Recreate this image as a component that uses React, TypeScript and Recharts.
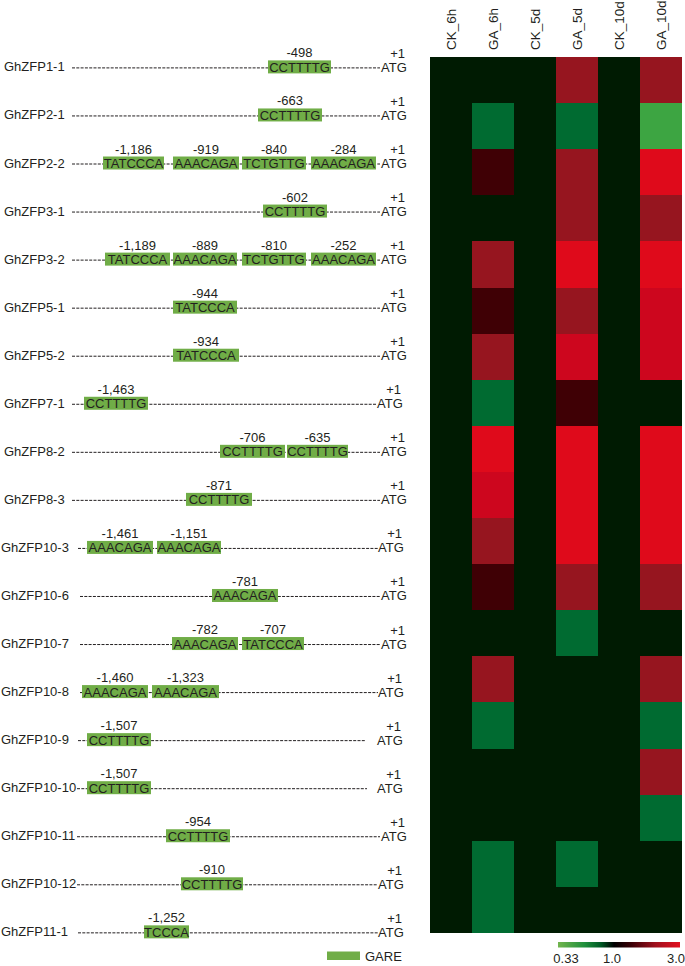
import React from 'react';
import { ComposedChart, BarChart, Bar, XAxis, YAxis, Cell } from 'recharts';

const FONT = '"Liberation Sans", Arial, sans-serif';
const INK = '#231f20';
const GARE_GREEN = '#70ad47';

const genes = [
  'GhZFP1-1', 'GhZFP2-1', 'GhZFP2-2', 'GhZFP3-1', 'GhZFP3-2', 'GhZFP5-1', 'GhZFP5-2',
  'GhZFP7-1', 'GhZFP8-2', 'GhZFP8-3', 'GhZFP10-3', 'GhZFP10-6', 'GhZFP10-7', 'GhZFP10-8',
  'GhZFP10-9', 'GhZFP10-10', 'GhZFP10-11', 'GhZFP10-12', 'GhZFP11-1',
];

const conditions = ['CK_6h', 'GA_6h', 'CK_5d', 'GA_5d', 'CK_10d', 'GA_10d'];

// relative expression (fold change) per gene, one list per condition
const ck6h = [1, 1, 1, 1, 1, 1, 1, 1, 1, 1, 1, 1, 1, 1, 1, 1, 1, 1, 1];
const ga6h = [1, 0.5, 1.3, 1, 2, 1.3, 2, 0.5, 3, 2.6, 2, 1.3, 1, 2, 0.5, 1, 1, 0.5, 0.5];
const ck5d = [1, 1, 1, 1, 1, 1, 1, 1, 1, 1, 1, 1, 1, 1, 1, 1, 1, 1, 1];
const ga5d = [2, 0.5, 2, 2, 3, 2, 2.6, 1.3, 3, 3, 3, 2, 0.5, 1, 1, 1, 1, 0.5, 1];
const ck10d = [1, 1, 1, 1, 1, 1, 1, 1, 1, 1, 1, 1, 1, 1, 1, 1, 1, 1, 1];
const ga10d = [2, 0.38, 3, 2, 3, 2.6, 2.6, 1, 3, 3, 3, 2, 1, 2, 0.5, 2, 0.5, 1, 1];
const foldChange = [ck6h, ga6h, ck5d, ga5d, ck10d, ga10d];

// promoter schematic (drawn track units, not to scale)
const trackStart = [72, 72, 72, 72, 72, 72, 72, 72, 72, 72, 78, 80, 80, 80, 78, 77, 77, 77, 78];
const trackEnd = [380, 380, 380, 380, 380, 380, 380, 377, 380, 380, 378, 380, 380, 378, 366, 367, 380, 378, 378];
const atgAt = [381, 381, 381, 381, 381, 381, 381, 377, 381, 381, 378, 381, 381, 378, 377, 377, 381, 378, 378];

const motifSeq = [
  ['CCTTTTG'], ['CCTTTTG'], ['TATCCCA', 'AAACAGA', 'TCTGTTG', 'AAACAGA'], ['CCTTTTG'],
  ['TATCCCA', 'AAACAGA', 'TCTGTTG', 'AAACAGA'], ['TATCCCA'], ['TATCCCA'], ['CCTTTTG'],
  ['CCTTTTG', 'CCTTTTG'], ['CCTTTTG'], ['AAACAGA', 'AAACAGA'], ['AAACAGA'],
  ['AAACAGA', 'TATCCCA'], ['AAACAGA', 'AAACAGA'], ['CCTTTTG'], ['CCTTTTG'], ['CCTTTTG'],
  ['CCTTTTG'], ['TCCCA'],
];
const motifPos = [
  ['-498'], ['-663'], ['-1,186', '-919', '-840', '-284'], ['-602'],
  ['-1,189', '-889', '-810', '-252'], ['-944'], ['-934'], ['-1,463'],
  ['-706', '-635'], ['-871'], ['-1,461', '-1,151'], ['-781'],
  ['-782', '-707'], ['-1,460', '-1,323'], ['-1,507'], ['-1,507'], ['-954'],
  ['-910'], ['-1,252'],
];
const motifStart = [
  [268], [258], [103, 173, 242, 311], [263], [105, 173, 242, 311], [173], [173], [84],
  [220, 287], [186], [87, 157], [212], [172, 242], [82, 152], [87], [87], [166], [181], [144],
];
const motifEnd = [
  [331], [322], [164, 239, 306, 376], [327], [170, 237, 306, 376], [237], [239], [148],
  [285, 348], [252], [153, 221], [278], [238, 304], [148, 219], [151], [151], [230], [243], [189],
];

const promoterData = genes.map((gene, i) => {
  const row: Record<string, any> = {
    gene,
    track: [trackStart[i], trackEnd[i]],
    atg: [atgAt[i], atgAt[i] + 27],
  };
  motifSeq[i].forEach((s, k) => {
    row['m' + k] = [motifStart[i][k], motifEnd[i][k]];
    row['s' + k] = s;
    row['p' + k] = motifPos[i][k];
  });
  return row;
});

const heatData = conditions.map((cond) => {
  const row: Record<string, any> = { cond };
  genes.forEach((_, i) => {
    row['r' + i] = 1;
  });
  return row;
});

const colorStops: [number, string][] = [
  [0.33, '#6ab04c'],
  [0.38, '#3da542'],
  [0.5, '#006b31'],
  [1, '#001b02'],
  [1.3, '#3f0005'],
  [2, '#96151f'],
  [2.6, '#cd061e'],
  [3, '#df0a1b'],
];

function hexToRgb(h: string) {
  return [1, 3, 5].map((o) => parseInt(h.slice(o, o + 2), 16));
}

function heatColor(v: number) {
  if (v <= colorStops[0][0]) return colorStops[0][1];
  for (let i = 1; i < colorStops.length; i++) {
    const [v1, c1] = colorStops[i];
    const [v0, c0] = colorStops[i - 1];
    if (v <= v1) {
      const t = (Math.log(v) - Math.log(v0)) / (Math.log(v1) - Math.log(v0));
      const a = hexToRgb(c0);
      const b = hexToRgb(c1);
      const m = a.map((x, j) => Math.round(x + (b[j] - x) * t));
      return `rgb(${m[0]},${m[1]},${m[2]})`;
    }
  }
  return colorStops[colorStops.length - 1][1];
}

const textStyle = { fontFamily: FONT, fontSize: 13, fill: INK };

const GeneTick = ({ y, payload }: any) => (
  <text x={payload.value.length > 8 ? 1 : 4} y={y + 5} textAnchor="start" {...textStyle}>
    {payload.value}
  </text>
);

const TrackLine = (p: any) => {
  if (!p.payload) return <g />;
  const cy = p.y + p.height / 2 + 1;
  return (
    <line x1={p.x} x2={p.x + p.width} y1={cy} y2={cy} stroke={INK} strokeWidth={1} strokeDasharray="3 1.3" />
  );
};

const AtgMark = (p: any) => {
  if (!p.payload) return <g />;
  const cy = p.y + p.height / 2;
  return (
    <g>
      <text x={p.x} y={cy + 5} textAnchor="start" {...textStyle}>ATG</text>
      <text x={p.x + p.width - 3} y={cy - 9} textAnchor="end" {...textStyle}>+1</text>
    </g>
  );
};

const motifShape = (k: number) => (p: any) => {
  const pl = p.payload;
  if (!pl || !pl['m' + k]) return <g />;
  const cx = p.x + p.width / 2;
  const cy = p.y + p.height / 2;
  return (
    <g>
      <rect x={p.x} y={p.y} width={p.width} height={p.height} fill={GARE_GREEN} />
      <text x={cx} y={cy + 5} textAnchor="middle" {...textStyle}>{pl['s' + k]}</text>
      <text x={cx} y={p.y - 3} textAnchor="middle" {...textStyle}>{pl['p' + k]}</text>
    </g>
  );
};

const HeaderTick = ({ x, payload }: any) => (
  <text
    x={x}
    y={50}
    transform={`rotate(-90, ${x}, 50)`}
    textAnchor="start"
    dominantBaseline="central"
    fontFamily={FONT}
    fontSize={13.5}
    fill={INK}
  >
    {payload.value}
  </text>
);

export default function App() {
  return (
    <div style={{ position: 'relative', width: 685, height: 966, background: '#fff' }}>
      <style>{'body{margin:0}'}</style>
      <div style={{ position: 'absolute', left: 0, top: 0 }}>
        <ComposedChart
          width={430}
          height={966}
          data={promoterData}
          layout="vertical"
          margin={{ top: 42.4, right: 0, bottom: 10.6, left: 0 }}
          barGap={-13}
        >
          <XAxis type="number" domain={[72, 430]} allowDataOverflow hide />
          <YAxis
            type="category"
            dataKey="gene"
            width={72}
            axisLine={false}
            tickLine={false}
            interval={0}
            tick={GeneTick}
          />
          <Bar dataKey="track" barSize={13} shape={TrackLine} isAnimationActive={false} />
          <Bar dataKey="m0" barSize={13} shape={motifShape(0)} isAnimationActive={false} />
          <Bar dataKey="m1" barSize={13} shape={motifShape(1)} isAnimationActive={false} />
          <Bar dataKey="m2" barSize={13} shape={motifShape(2)} isAnimationActive={false} />
          <Bar dataKey="m3" barSize={13} shape={motifShape(3)} isAnimationActive={false} />
          <Bar dataKey="atg" barSize={13} shape={AtgMark} isAnimationActive={false} />
        </ComposedChart>
      </div>
      <div style={{ position: 'absolute', left: 430, top: 0 }}>
        <BarChart
          width={255}
          height={966}
          data={heatData}
          margin={{ top: 0, right: 3, bottom: 33, left: 0 }}
          barCategoryGap={0}
        >
          <XAxis
            dataKey="cond"
            orientation="top"
            height={57}
            axisLine={false}
            tickLine={false}
            interval={0}
            tick={HeaderTick}
          />
          <YAxis hide type="number" domain={[0, 19]} reversed allowDataOverflow />
          {genes.map((g, i) => (
            <Bar key={g} dataKey={'r' + i} stackId="heat" isAnimationActive={false}>
              {conditions.map((c, j) => (
                <Cell key={c} fill={heatColor(foldChange[j][i])} shapeRendering="crispEdges" />
              ))}
            </Bar>
          ))}
        </BarChart>
      </div>
      <svg
        width={685}
        height={966}
        style={{ position: 'absolute', left: 0, top: 0, pointerEvents: 'none' }}
      >
        <defs>
          <linearGradient id="fcScale" x1="0" x2="1" y1="0" y2="0">
            <stop offset="0" stopColor="#72b54e" />
            <stop offset="0.22" stopColor="#1f8f3c" />
            <stop offset="0.35" stopColor="#005a25" />
            <stop offset="0.46" stopColor="#000000" />
            <stop offset="0.6" stopColor="#3a0006" />
            <stop offset="0.8" stopColor="#a0101d" />
            <stop offset="1" stopColor="#e3101f" />
          </linearGradient>
        </defs>
        <rect x={558} y={942} width={122} height={5.5} fill="url(#fcScale)" />
        <text x={566} y={963} textAnchor="middle" {...textStyle}>0.33</text>
        <text x={612} y={963} textAnchor="middle" {...textStyle}>1.0</text>
        <text x={685} y={963} textAnchor="end" {...textStyle}>3.0</text>
        <rect x={327} y={951.5} width={33} height={8.5} fill={GARE_GREEN} />
        <text x={365} y={961} textAnchor="start" {...textStyle}>GARE</text>
      </svg>
    </div>
  );
}
